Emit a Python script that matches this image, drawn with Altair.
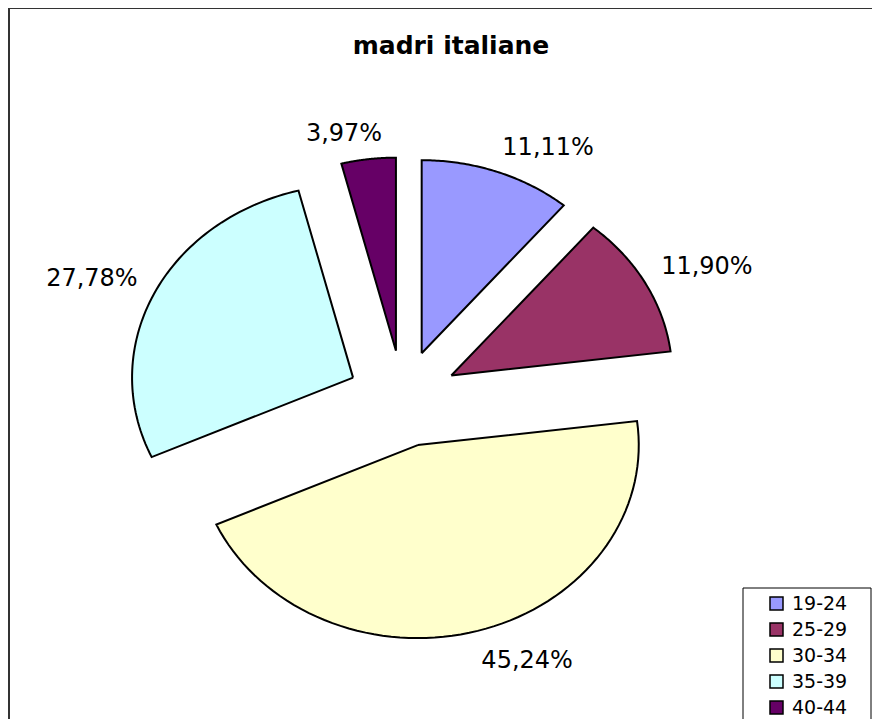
import altair as alt
import pandas as pd

# ---- data ----
categories = ["19-24", "25-29", "30-34", "35-39", "40-44"]
percentages = [11.11, 11.90, 45.24, 27.78, 3.97]
colors = ["#9999FF", "#993366", "#FFFFCC", "#CCFFFF", "#660066"]
labels = [f"{v:.2f}".replace(".", ",") + "%" for v in percentages]
title_text = "madri italiane"

df = pd.DataFrame({
    "cat": categories,
    "pct": percentages,
    "label": labels,
    "order": list(range(len(categories))),
})

# ---- layout / style constants ----
W, H = 864, 711
CX, CY = 394.8, 390.6          # pie centre inside the view
EXPX, EXPY = 55.2, 48.3        # explosion offset
RX, RY = 221, 193              # (slightly flattened) pie radii
LRX, LRY = 241, 210            # label anchor radii
N = 72                         # outline resolution per slice
FONT = "DejaVu Sans"

base = (
    alt.Chart(df)
    .transform_joinaggregate(total="sum(pct)")
    .transform_window(cum="sum(pct)", sort=[alt.SortField("order", order="ascending")])
    .transform_calculate(
        t0="2*PI*(datum.cum-datum.pct)/datum.total",
        t1="2*PI*datum.cum/datum.total",
    )
    .transform_calculate(mid="(datum.t0+datum.t1)/2")
    .transform_calculate(
        px=f"{CX}+{EXPX}*sin(datum.mid)",
        py=f"{CY}-{EXPY}*cos(datum.mid)",
    )
)

slices = (
    base.transform_calculate(steps=f"sequence(-1, {N + 2})")
    .transform_flatten(["steps"], as_=["step"])
    .transform_calculate(
        ang=f"datum.t0+(datum.t1-datum.t0)*clamp(datum.step,0,{N})/{N}",
        apex=f"datum.step<0 || datum.step>{N}",
    )
    .transform_calculate(
        sx=f"datum.apex ? datum.px : datum.px+{RX}*sin(datum.ang)",
        sy=f"datum.apex ? datum.py : datum.py-{RY}*cos(datum.ang)",
    )
    .mark_line(stroke="black", strokeWidth=2, strokeJoin="miter", interpolate="linear")
    .encode(
        x=alt.X("sx:Q", scale=None, axis=None),
        y=alt.Y("sy:Q", scale=None, axis=None),
        order=alt.Order("step:Q"),
        detail="cat:N",
        fill=alt.Fill(
            "cat:N",
            scale=alt.Scale(domain=categories, range=colors),
            legend=alt.Legend(
                title=None,
                orient="none",
                legendX=759,
                legendY=586,
                symbolType="square",
                symbolSize=169,
                symbolStrokeColor="black",
                symbolStrokeWidth=1.5,
                labelFont=FONT,
                labelFontSize=19,
                labelColor="black",
                rowPadding=6,
                labelOffset=6,
                padding=0,
            ),
        ),
    )
)

texts = (
    base.transform_calculate(
        lx=f"datum.px+{LRX}*sin(datum.mid)+44*sin(datum.mid)/max(abs(sin(datum.mid)),0.25)",
        ly=f"datum.py-{LRY}*cos(datum.mid)-11*cos(datum.mid)/max(abs(cos(datum.mid)),0.25)+3",
    )
    .mark_text(font=FONT, fontSize=24, color="black", align="center", baseline="middle")
    .encode(
        x=alt.X("lx:Q", scale=None, axis=None),
        y=alt.Y("ly:Q", scale=None, axis=None),
        text="label:N",
    )
)

one = pd.DataFrame({"d": [0]})
frame_top = alt.Chart(one).mark_rule(color="#333333", strokeWidth=2).encode(
    x=alt.value(1), x2=alt.value(W), y=alt.value(0)
)
frame_left = alt.Chart(one).mark_rule(color="#333333", strokeWidth=2).encode(
    x=alt.value(1), y=alt.value(0), y2=alt.value(H)
)
legend_box = alt.Chart(one).mark_rect(fill="white", stroke="black", strokeWidth=1).encode(
    x=alt.value(735), x2=alt.value(863), y=alt.value(580), y2=alt.value(H + 10)
)
title = alt.Chart(one).mark_text(
    font=FONT, fontSize=25, fontWeight="bold", baseline="alphabetic", align="center", color="black"
).encode(x=alt.value(443), y=alt.value(46), text=alt.value(title_text))

chart = (
    alt.layer(frame_top, frame_left, legend_box, slices, texts, title)
    .properties(width=W, height=H, autosize=alt.AutoSizeParams(type="none"), padding=0, background="white")
    .configure_view(stroke=None)
)

chart.save("out.html", embed_options={"renderer": "svg", "actions": False})
